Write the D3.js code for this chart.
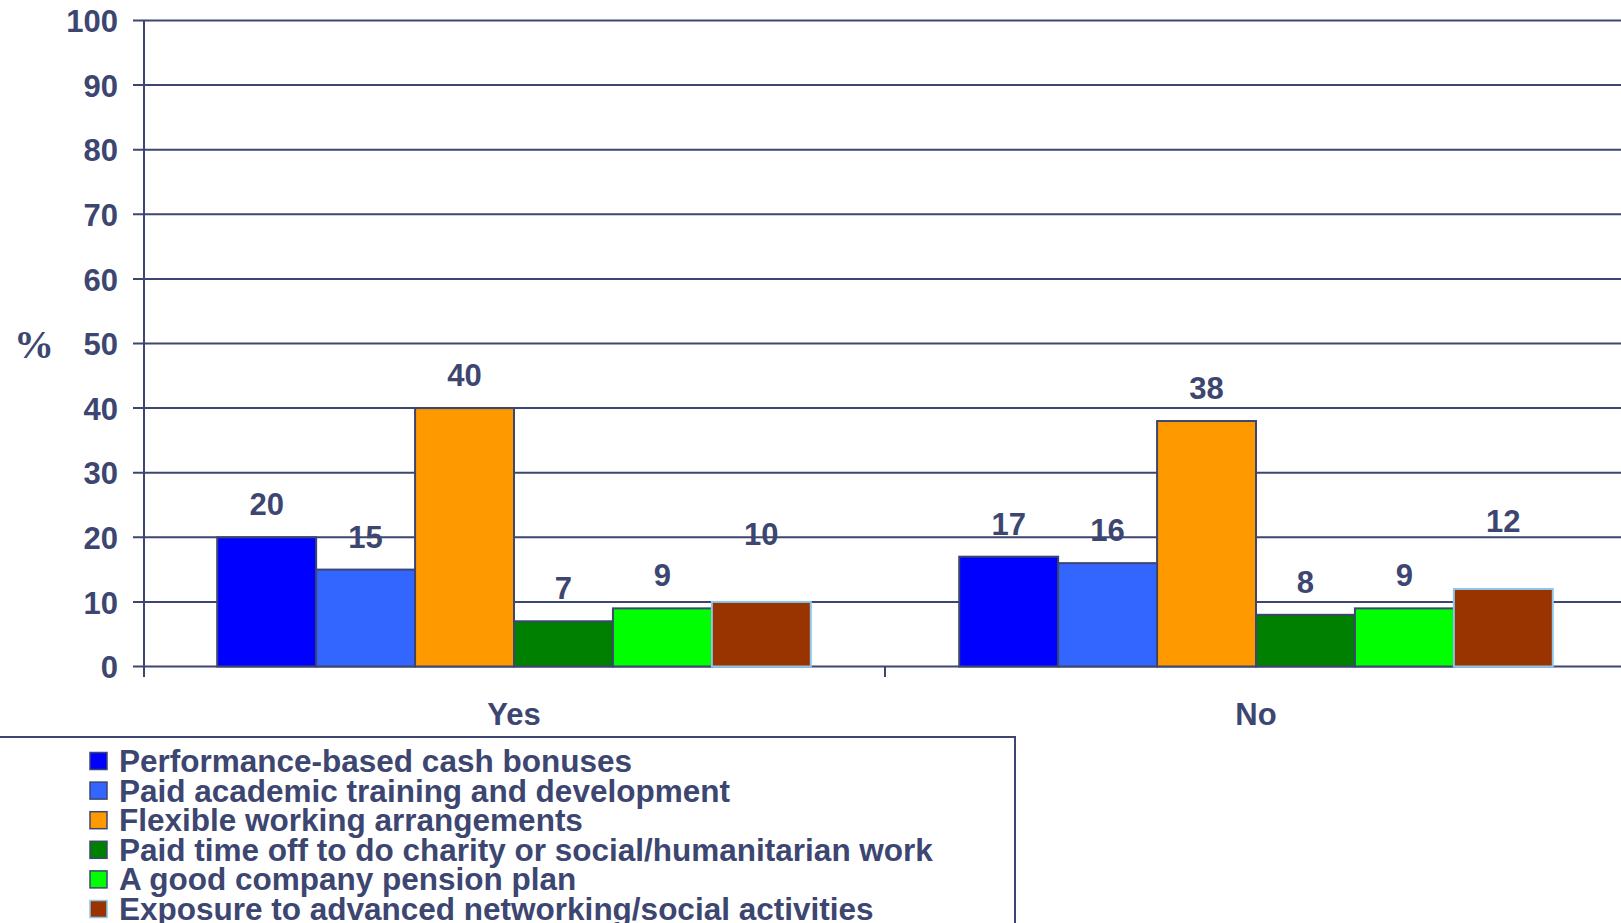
<!DOCTYPE html>
<html><head><meta charset="utf-8">
<script src="https://cdn.jsdelivr.net/npm/d3@7"></script>
<style>html,body{margin:0;padding:0;background:#fff;overflow:hidden}</style>
</head><body>
<svg id="c" width="1621" height="923"></svg>
<script>
const categories = ["Yes", "No"];
const seriesNames = [
  "Performance-based cash bonuses",
  "Paid academic training and development",
  "Flexible working arrangements",
  "Paid time off to do charity or social/humanitarian work",
  "A good company pension plan",
  "Exposure to advanced networking/social activities"
];
const yesValues = [20, 15, 40, 7, 9, 10];
const noValues = [17, 16, 38, 8, 9, 12];
const yTicks = [0, 10, 20, 30, 40, 50, 60, 70, 80, 90, 100];
const colors = ["#0000FF", "#3366FF", "#FF9900", "#008000", "#00FF00", "#993300"];
const strokes = ["#3C4670", "#3C4670", "#3C4670", "#3C4670", "#3C4670", "#8CC8EE"];

const ink = "#3C4670";
const font = "Liberation Sans, Arial, sans-serif";
const svg = d3.select("#c");

const x0 = d3.scaleBand().domain(categories).range([143, 1627]).paddingInner(0).paddingOuter(0);
const x1 = d3.scaleBand().domain(d3.range(seriesNames.length)).range([0, x0.bandwidth()]).paddingOuter(0.75).paddingInner(0);
const y = d3.scaleLinear().domain([0, 100]).range([666.5, 20.5]);

// gridlines
svg.append("g").selectAll("line").data(yTicks).join("line")
  .attr("x1", 133).attr("x2", 1621)
  .attr("y1", d => y(d)).attr("y2", d => y(d))
  .attr("stroke", ink).attr("stroke-width", 2);

// y axis
const yAxis = d3.axisLeft(y).tickValues(yTicks).tickSize(0).tickPadding(0);
const gy = svg.append("g").attr("transform", "translate(144,0)").call(yAxis);
gy.select(".domain").remove();
gy.selectAll("text").attr("x", -26).attr("dy", "0.36em")
  .attr("font-family", font).attr("font-weight", "bold").attr("font-size", 31).attr("fill", ink);
svg.append("line").attr("x1", 144).attr("x2", 144).attr("y1", y(100)).attr("y2", 677)
  .attr("stroke", ink).attr("stroke-width", 2);

// category separator ticks
svg.append("g").selectAll("line").data(categories.slice(1)).join("line")
  .attr("x1", d => x0(d)).attr("x2", d => x0(d))
  .attr("y1", y(0)).attr("y2", 677).attr("stroke", ink).attr("stroke-width", 2);

// bars
const data = categories.map((c, i) => ({cat: c, vals: i === 0 ? yesValues : noValues}));
const groups = svg.append("g").selectAll("g").data(data).join("g")
  .attr("transform", d => `translate(${x0(d.cat)},0)`);
groups.selectAll("rect").data(d => d.vals.map((v, i) => ({v, i}))).join("rect")
  .attr("x", d => x1(d.i)).attr("width", x1.bandwidth())
  .attr("y", d => y(d.v)).attr("height", d => y(0) - y(d.v))
  .attr("fill", d => colors[d.i]).attr("stroke", d => strokes[d.i]).attr("stroke-width", 2);
// label offset: last series labels sit higher in the original
groups.selectAll("text").data(d => d.vals.map((v, i) => ({v, i}))).join("text")
  .attr("x", d => x1(d.i) + x1.bandwidth() / 2)
  .attr("y", d => y(d.v) - (d.i === 5 ? 57 : 22))
  .attr("text-anchor", "middle").attr("font-family", font).attr("font-weight", "bold")
  .attr("font-size", 31).attr("fill", ink).text(d => d.v);

// x labels
svg.append("g").selectAll("text").data(categories).join("text")
  .attr("x", d => x0(d) + x0.bandwidth() / 2).attr("y", 725)
  .attr("text-anchor", "middle").attr("font-family", font).attr("font-weight", "bold")
  .attr("font-size", 31).attr("fill", ink).text(d => d);

// y title
svg.append("text").attr("x", 34).attr("y", 358).attr("text-anchor", "middle")
  .attr("font-family", "Liberation Serif, Times New Roman, serif").attr("font-weight", "bold")
  .attr("font-size", 40).attr("fill", ink).text("%");

// legend box
svg.append("path").attr("d", "M0,737 L1015,737 L1015,923")
  .attr("fill", "none").attr("stroke", ink).attr("stroke-width", 2);
const leg = svg.append("g").selectAll("g").data(seriesNames).join("g")
  .attr("transform", (d, i) => `translate(0,${761 + i * 29.6})`);
leg.append("rect").attr("x", 90).attr("y", -8.5).attr("width", 17).attr("height", 17)
  .attr("fill", (d, i) => colors[i]).attr("stroke", (d, i) => strokes[i]).attr("stroke-width", 1.5);
leg.append("text").attr("x", 119).attr("y", 11).attr("font-family", font).attr("font-weight", "bold")
  .attr("font-size", 31.5).attr("fill", ink).text(d => d);
</script>
</body></html>
